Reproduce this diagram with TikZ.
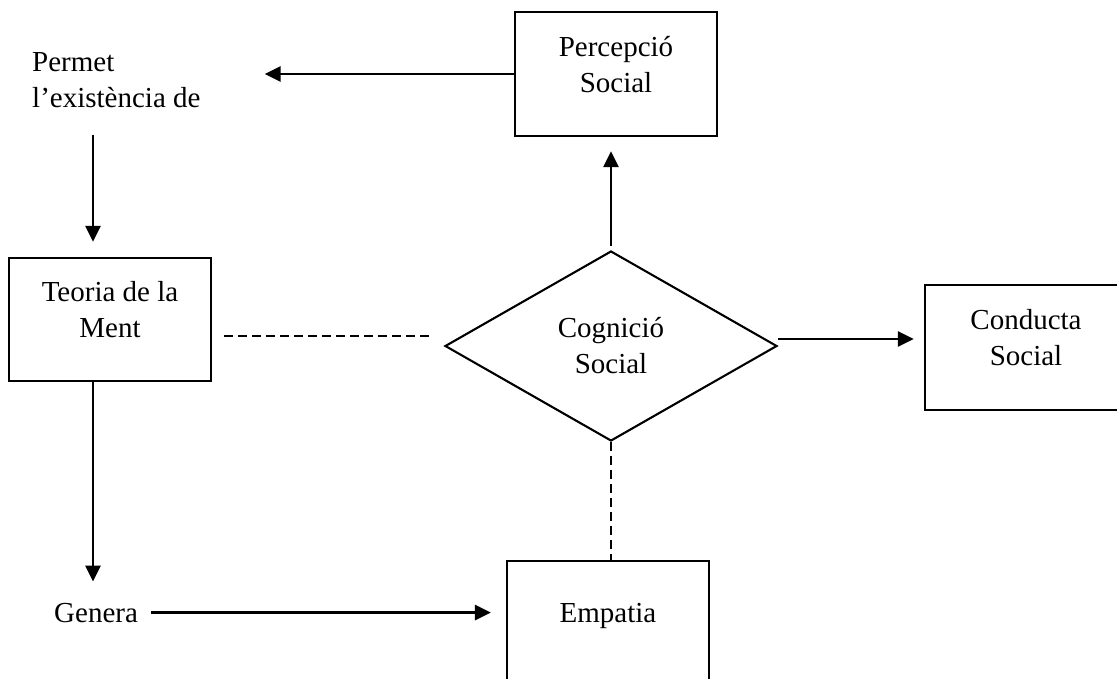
\documentclass[tikz,border=0pt]{standalone}
\usepackage{fontspec}
\setmainfont{Liberation Serif}
\usetikzlibrary{shapes.geometric, arrows.meta}

\begin{document}
\begin{tikzpicture}[
    x=1pt, y=-1pt,
    % Define styles
    box/.style={
        draw=black,
        line width=2.3pt,
        minimum width=202pt,
        minimum height=124pt,
        inner sep=0pt,
        align=center,
        text depth=20pt,
        font=\fontsize{29pt}{36pt}\selectfont
    },
    decision/.style={
        diamond,
        draw=black,
        line width=2.1pt,
        minimum width=332pt,
        minimum height=190pt,
        inner sep=0pt,
        align=center,
        font=\fontsize{29pt}{36pt}\selectfont
    },
    plain/.style={
        inner sep=0pt,
        align=left,
        font=\fontsize{29pt}{36pt}\selectfont
    },
    arrow/.style={
        -{Triangle[length=16pt, width=15pt]},
        line width=2.8pt,
        black
    },
    dashline/.style={
        line width=1.4pt,
        dash pattern=on 9pt off 5pt,
        black
    }
]

\clip (0,0) rectangle (1117,678);

% ============================================================
% Boxes
% ============================================================
\node[box] (percep) at (616, 74) {Percepció\\Social};
\node[box, minimum height=123pt] (teoria) at (110, 319.5) {Teoria de la\\Ment};
\node[decision] (cogn) at (611, 346) {Cognició\\Social};
\node[box, minimum height=125pt] (conducta) at (1026, 347.5) {Conducta\\Social};
\node[box] (empatia) at (608, 623) {Empatia};

% ============================================================
% Free texts
% ============================================================
\node[plain, anchor=north west] (permet) at (32, 52) {Permet\\l’existència de};
\node[plain, anchor=base west] (genera) at (54, 622) {Genera};
\coordinate (leftx) at (93, 0);

% ============================================================
% Connections
% ============================================================
\draw[arrow, shorten >=64pt] (percep.west) -- (percep.west -| permet.east);
\draw[arrow, shorten <=27pt, shorten >=15pt] (permet.south -| leftx) -- (teoria.north -| leftx);
\draw[arrow, shorten >=21pt] (teoria.south -| leftx) -- (genera.north -| leftx);
\draw[arrow, shorten <=13pt, shorten >=15pt] (genera.east) -- (genera.east -| empatia.west);
\draw[arrow, shorten <=4pt, shorten >=14pt] (cogn.north) -- (cogn.north |- percep.south);
\draw[arrow, shorten >=10pt] ([yshift=7pt]cogn.east) -- ([yshift=7pt]cogn.east -| conducta.west);

% Dashed links
\draw[dashline, shorten <=12pt, shorten >=14pt] ([yshift=10pt]cogn.west -| teoria.east) -- ([yshift=10pt]cogn.west);
\draw[dashline] (cogn.south) -- (cogn.south |- empatia.north);

\end{tikzpicture}
\end{document}
